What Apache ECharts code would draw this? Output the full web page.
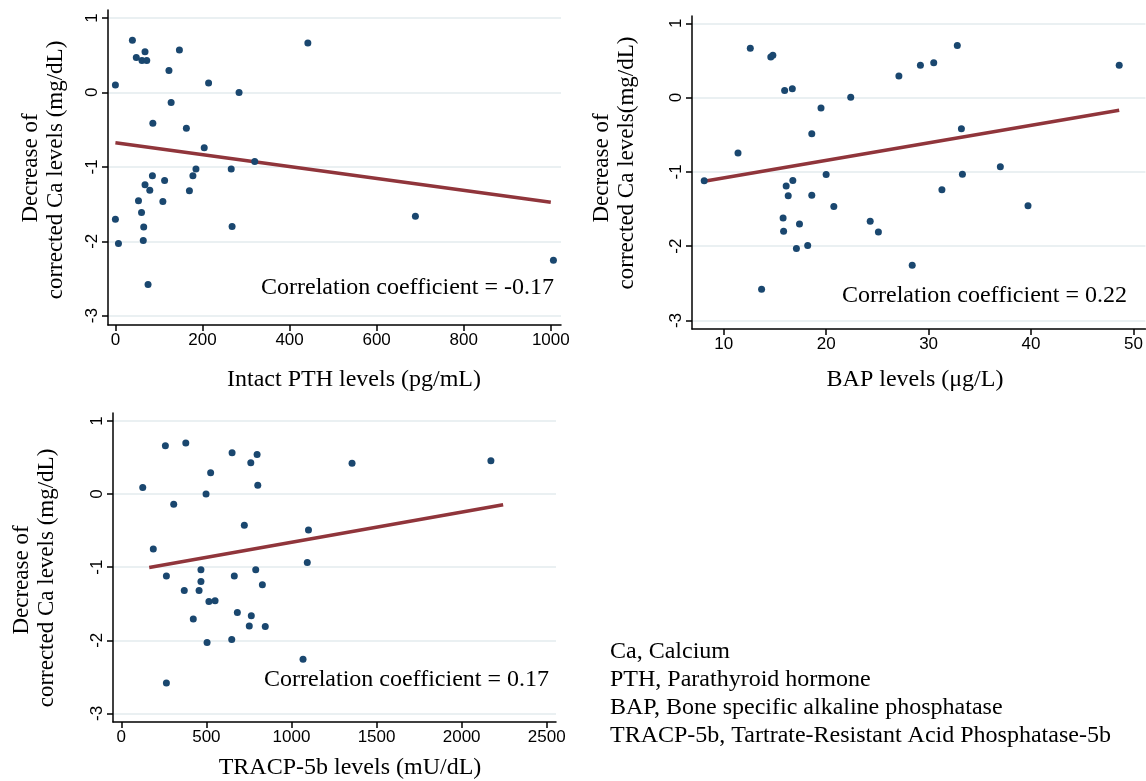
<!DOCTYPE html>
<html>
<head>
<meta charset="utf-8">
<script src="https://cdn.jsdelivr.net/npm/echarts@6/dist/echarts.min.js"></script>
<style>
html,body{margin:0;padding:0;background:#fff;}
#c{width:1146px;height:781px;}
</style>
</head>
<body>
<div id="c"></div>
<script>
// ---------- data ----------
const yTicks = [1, 0, -1, -2, -3];
const pthTicks = [0, 200, 400, 600, 800, 1000];
const bapTicks = [10, 20, 30, 40, 50];
const tracpTicks = [0, 500, 1000, 1500, 2000, 2500];

const pthX = [0, 39, 48, 68, 61, 72, 147, 123, 214, 284, 128, 86, 163, 204, 320, 185, 266, 85, 113, 178,
  68, 79, 170, 53, 109, 60, 0, 65, 268, 64, 7, 75, 442, 689, 1006];
const pthY = [0.10, 0.70, 0.47, 0.545, 0.43, 0.43, 0.57, 0.295, 0.125, 0.0, -0.135, -0.415, -0.48, -0.745, -0.93, -1.03, -1.03, -1.12, -1.185, -1.12,
  -1.24, -1.315, -1.32, -1.455, -1.465, -1.615, -1.705, -1.81, -1.80, -1.99, -2.03, -2.58, 0.665, -1.665, -2.255];

const bapX = [12.6, 14.6, 14.8, 15.95, 16.7, 22.4, 19.5, 18.6, 11.4, 8.1, 16.75, 16.1, 16.3, 18.6, 20.0, 20.75, 15.8, 17.4, 15.85, 17.1,
  18.2, 24.3, 25.1, 13.7, 27.1, 29.2, 30.5, 32.8, 48.6, 33.2, 37.0, 33.3, 31.3, 39.7, 28.4];
const bapY = [0.665, 0.545, 0.57, 0.095, 0.12, 0.005, -0.14, -0.485, -0.745, -1.12, -1.115, -1.19, -1.32, -1.315, -1.035, -1.465, -1.62, -1.70, -1.80, -2.03,
  -1.99, -1.665, -1.81, -2.58, 0.29, 0.435, 0.47, 0.70, 0.435, -0.42, -0.93, -1.03, -1.24, -1.455, -2.255];

const tracpX = [126, 259, 379, 651, 798, 761, 525, 802, 498, 308, 723, 1100, 188, 1093, 468, 790, 265, 664, 468, 829,
  370, 457, 515, 551, 682, 764, 423, 752, 846, 504, 649, 1068, 265, 1356, 2172];
const tracpY = [0.09, 0.66, 0.70, 0.565, 0.54, 0.43, 0.29, 0.12, 0.0, -0.14, -0.425, -0.49, -0.75, -0.935, -1.035, -1.035, -1.12, -1.12, -1.195, -1.24,
  -1.32, -1.32, -1.47, -1.46, -1.62, -1.665, -1.71, -1.805, -1.81, -2.03, -1.99, -2.258, -2.585, 0.42, 0.456];

// fitted lines (end points)
const pthFitX = [0, 1000];
const pthFitY = [-0.676, -1.476];
const bapFitX = [8.1, 48.6];
const bapFitY = [-1.127, -0.170];
const tracpFitX = [164, 2244];
const tracpFitY = [-1.004, -0.146];

const corrTexts = ['Correlation coefficient = -0.17', 'Correlation coefficient = 0.22', 'Correlation coefficient = 0.17'];
const xTitles = ['Intact PTH levels (pg/mL)', 'BAP levels (\u03bcg/L)', 'TRACP-5b levels (mU/dL)'];
const yTitleTop = ['Decrease of', 'Decrease of', 'Decrease of'];
const yTitleBottom = ['corrected Ca levels (mg/dL)', 'corrected Ca levels(mg/dL)', 'corrected Ca levels (mg/dL)'];
const notes = ['Ca, Calcium', 'PTH, Parathyroid hormone', 'BAP, Bone specific alkaline phosphatase', 'TRACP-5b, Tartrate-Resistant Acid Phosphatase-5b'];

// ---------- styling ----------
const DOT = '#1a476f';
const FIT = '#90353b';
const GRIDC = '#eaf0f2';
const SANS = '"Liberation Sans", Arial, sans-serif';
const SERIF = '"Liberation Serif", "Times New Roman", serif';

const zip = (xs, ys) => xs.map((x, i) => [x, ys[i]]);
const plain = v => String(v);

function xAx(idx, min, max, ticks) {
  return {
    type: 'value', gridIndex: idx, min: min, max: max,
    axisLine: {show: true, onZero: false, lineStyle: {color: '#000', width: 1.5}},
    axisTick: {show: true, length: 6, customValues: ticks, lineStyle: {color: '#000', width: 1.5}},
    axisLabel: {customValues: ticks, formatter: plain, color: '#000', fontFamily: SANS, fontSize: 17, margin: 7, showMinLabel: true, showMaxLabel: true},
    splitLine: {show: false}
  };
}
function yAx(idx, min, max) {
  return {
    type: 'value', gridIndex: idx, min: min, max: max,
    axisLine: {show: true, onZero: false, lineStyle: {color: '#000', width: 1.5}},
    axisTick: {show: true, length: 6, customValues: yTicks, lineStyle: {color: '#000', width: 1.5}},
    axisLabel: {customValues: yTicks, formatter: plain, rotate: 90, color: '#000', fontFamily: SANS, fontSize: 17, margin: 7, showMinLabel: true, showMaxLabel: true},
    splitLine: {show: true, lineStyle: {color: GRIDC, width: 2}}
  };
}
function scatter(idx, xs, ys) {
  return {type: 'scatter', xAxisIndex: idx, yAxisIndex: idx, data: zip(xs, ys), symbolSize: 7,
    itemStyle: {color: DOT, opacity: 1}, z: 3, silent: true};
}
function fit(idx, xs, ys) {
  return {type: 'line', xAxisIndex: idx, yAxisIndex: idx, data: zip(xs, ys), showSymbol: false, symbol: 'none',
    lineStyle: {color: FIT, width: 3.5}, z: 2, silent: true};
}
function txt(x, y, s, opts) {
  return Object.assign({type: 'text', x: x, y: y, silent: true,
    style: Object.assign({text: s, fill: '#000', font: '24px ' + SERIF, textAlign: 'center', textVerticalAlign: 'middle'}, opts || {})});
}
function rtxt(x, y, s) {
  return {type: 'text', x: x, y: y, rotation: Math.PI / 2, silent: true,
    style: {text: s, fill: '#000', font: '23px ' + SERIF, textAlign: 'center', textVerticalAlign: 'middle'}};
}

const chart = echarts.init(document.getElementById('c'), null, {renderer: 'canvas'});
chart.setOption({
  animation: false,
  backgroundColor: '#fff',
  grid: [
    {left: 108, top: 10, width: 453, height: 315},
    {left: 692, top: 16, width: 454, height: 313},
    {left: 113, top: 413, width: 443, height: 309}
  ],
  xAxis: [
    xAx(0, -17, 1023.4, pthTicks),
    xAx(1, 6.91, 51.16, bapTicks),
    xAx(2, -48.8, 2554.6, tracpTicks)
  ],
  yAxis: [
    yAx(0, -3.125, 1.107),
    yAx(1, -3.114, 1.098),
    yAx(2, -3.118, 1.109)
  ],
  series: [
    scatter(0, pthX, pthY), fit(0, pthFitX, pthFitY),
    scatter(1, bapX, bapY), fit(1, bapFitX, bapFitY),
    scatter(2, tracpX, tracpY), fit(2, tracpFitX, tracpFitY)
  ],
  graphic: [
    txt(354, 380, xTitles[0]),
    txt(915, 380, xTitles[1]),
    txt(350, 768, xTitles[2]),
    rtxt(31, 168, yTitleTop[0]),
    rtxt(56, 170, yTitleBottom[0]),
    rtxt(602, 168, yTitleTop[1]),
    rtxt(627, 163, yTitleBottom[1]),
    rtxt(22, 580, yTitleTop[2]),
    rtxt(47, 578, yTitleBottom[2]),
    txt(554, 288, corrTexts[0], {textAlign: 'right'}),
    txt(1127, 296, corrTexts[1], {textAlign: 'right'}),
    txt(549, 680, corrTexts[2], {textAlign: 'right'}),
    txt(610, 652, notes[0], {textAlign: 'left', font: '24px ' + SERIF}),
    txt(610, 680, notes[1], {textAlign: 'left', font: '24px ' + SERIF}),
    txt(610, 708, notes[2], {textAlign: 'left', font: '24px ' + SERIF}),
    txt(610, 736, notes[3], {textAlign: 'left', font: '24px ' + SERIF})
  ]
});
</script>
</body>
</html>
